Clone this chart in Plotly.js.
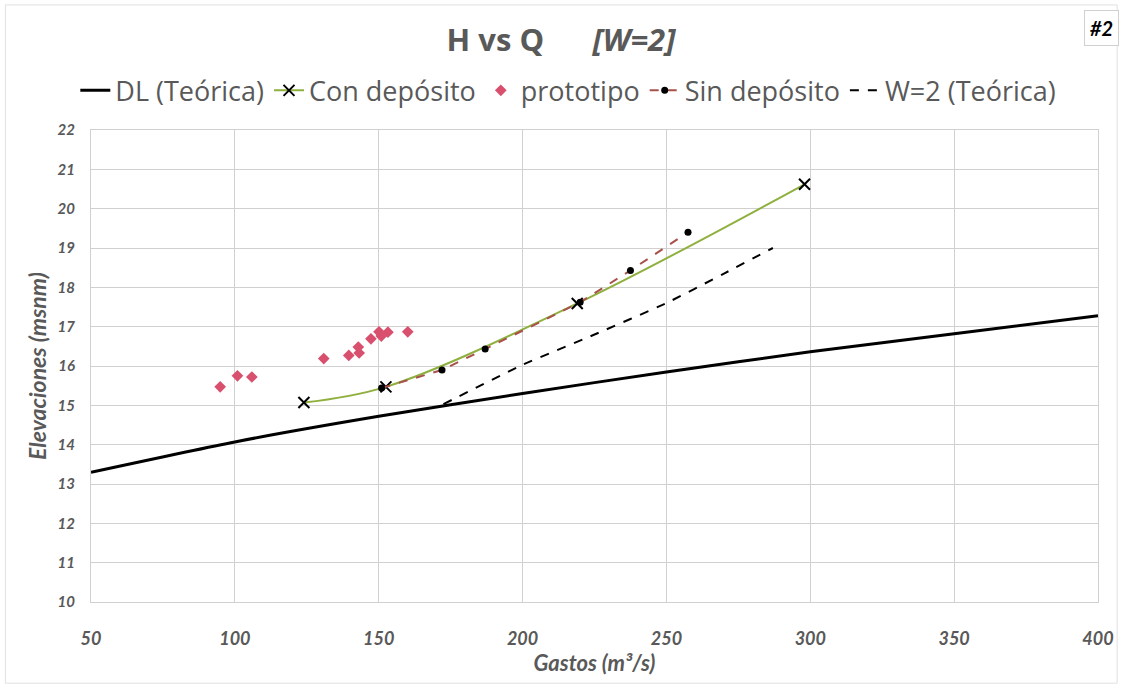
<!DOCTYPE html>
<html>
<head>
<meta charset="utf-8">
<script src="https://cdn.plot.ly/plotly-3.0.1.min.js"></script>
<style>html,body{margin:0;padding:0;background:#fff;}#chart{width:1122px;height:687px;}</style>
</head>
<body>
<div id="chart"></div>
<script>
// ---- data ----
const dlQ = [50, 100, 150, 200, 250, 300, 350, 400];
const dlH = [13.30, 14.07, 14.72, 15.30, 15.85, 16.36, 16.82, 17.28];

const conQ = [124, 152.5, 219, 298];
const conH = [15.07, 15.47, 17.59, 20.62];

const protoQ = [94.9, 100.9, 105.9, 130.9, 139.6, 142.9, 143.2, 147.3, 150.1, 150.9, 153.2, 160.1];
const protoH = [15.47, 15.75, 15.72, 16.19, 16.27, 16.48, 16.33, 16.69, 16.87, 16.76, 16.86, 16.87];

const sinQ = [151, 172, 187, 220, 237.5, 257.5];
const sinH = [15.44, 15.90, 16.43, 17.62, 18.43, 19.40];

const w2Q = [172.5, 200, 225, 250, 270, 287];
const w2H = [15.03, 16.03, 16.80, 17.60, 18.35, 19.00];

const xTicks = [50, 100, 150, 200, 250, 300, 350, 400];
const yTicks = [10, 11, 12, 13, 14, 15, 16, 17, 18, 19, 20, 21, 22];

const names = ['DL (Teórica)', 'Con depósito', 'prototipo', 'Sin depósito', 'W=2 (Teórica)'];
const titleMain = 'H vs Q';
const titleSub = '[W=2]';
const xTitle = 'Gastos (m³/s)';
const yTitle = 'Elevaciones (msnm)';
const badge = '#2';

const FONT = 'Lato, "Open Sans", sans-serif';
const LFONT = '"Open Sans", Lato, sans-serif';
const GREY = '#595959';

const traces = [
  {x: dlQ, y: dlH, name: names[0], mode: 'lines', type: 'scatter',
   line: {color: '#000000', width: 3, shape: 'spline', smoothing: 0.6}},
  {x: conQ, y: conH, name: names[1], mode: 'lines+markers', type: 'scatter',
   line: {color: '#8FB03E', width: 2, shape: 'spline', smoothing: 1},
   marker: {symbol: 'x-thin-open', size: 11, color: '#000000', line: {color: '#000000', width: 2}}},
  {x: protoQ, y: protoH, name: names[2], mode: 'markers', type: 'scatter',
   marker: {symbol: 'diamond', size: 9, color: '#D9506E'}},
  {x: sinQ, y: sinH, name: names[3], mode: 'lines+markers', type: 'scatter',
   line: {color: '#A8504C', width: 2, dash: 'dash'},
   marker: {symbol: 'circle', size: 7, color: '#000000'}},
  {x: w2Q, y: w2H, name: names[4], mode: 'lines', type: 'scatter',
   line: {color: '#000000', width: 2, dash: 'dash', shape: 'spline', smoothing: 0.5}}
];

const layout = {
  width: 1122, height: 687,
  margin: {l: 91, r: 24, t: 130, b: 85},
  paper_bgcolor: '#ffffff', plot_bgcolor: '#ffffff',
  font: {family: FONT, color: GREY},
  title: {
    text: '<b>' + titleMain + '</b>\u00A0\u00A0\u00A0\u00A0\u00A0\u00A0<b><i>' + titleSub + '</i></b>',
    font: {family: LFONT, size: 31, color: GREY},
    x: 0.5, xanchor: 'center', y: 0.942, yanchor: 'middle'
  },
  showlegend: true,
  legend: {
    orientation: 'h', x: 0.474, xanchor: 'center',
    y: 1.083, yanchor: 'middle',
    font: {family: LFONT, size: 27, color: GREY}, bgcolor: 'rgba(0,0,0,0)',
    itemwidth: 30, tracegroupgap: 0
  },
  xaxis: {
    range: [50, 400], tickvals: xTicks, ticktext: xTicks.map(String),
    showgrid: true, gridcolor: '#D0D0D0', gridwidth: 1, zeroline: false,
    showline: true, linecolor: '#D0D0D0', linewidth: 1, mirror: true,
    ticks: 'outside', ticklen: 20, tickcolor: 'rgba(0,0,0,0)',
    tickfont: {family: FONT, size: 18, color: GREY, weight: 'bold', style: 'italic'},
    title: {text: '<b><i>' + xTitle + '</i></b>', font: {family: FONT, size: 22, color: GREY}, standoff: 8}
  },
  yaxis: {
    range: [10, 22], tickvals: yTicks, ticktext: yTicks.map(String),
    showgrid: true, gridcolor: '#D0D0D0', gridwidth: 1, zeroline: false,
    showline: true, linecolor: '#D0D0D0', linewidth: 1, mirror: true,
    ticks: 'outside', ticklen: 12, tickcolor: 'rgba(0,0,0,0)',
    tickfont: {family: FONT, size: 15, color: GREY, weight: 'bold', style: 'italic'},
    title: {text: '<b><i>' + yTitle + '</i></b>', font: {family: FONT, size: 23, color: GREY}, standoff: 4}
  },
  annotations: [{
    text: '<b><i>' + badge + '</i></b>', xref: 'paper', yref: 'paper',
    x: 1.003, y: 1.216, xanchor: 'center', yanchor: 'middle', showarrow: false,
    font: {family: FONT, size: 20, color: '#000000'},
    bordercolor: '#D0D0D0', borderwidth: 1, borderpad: 5, bgcolor: '#ffffff'
  }],
  shapes: [{
    type: 'rect', xref: 'paper', yref: 'paper',
    x0: -0.085, x1: 1.019, y0: -0.172, y1: 1.265,
    line: {color: '#E0E0E0', width: 1}, layer: 'below'
  }]
};

Plotly.newPlot('chart', traces, layout, {displayModeBar: false, staticPlot: true});
</script>
</body>
</html>
